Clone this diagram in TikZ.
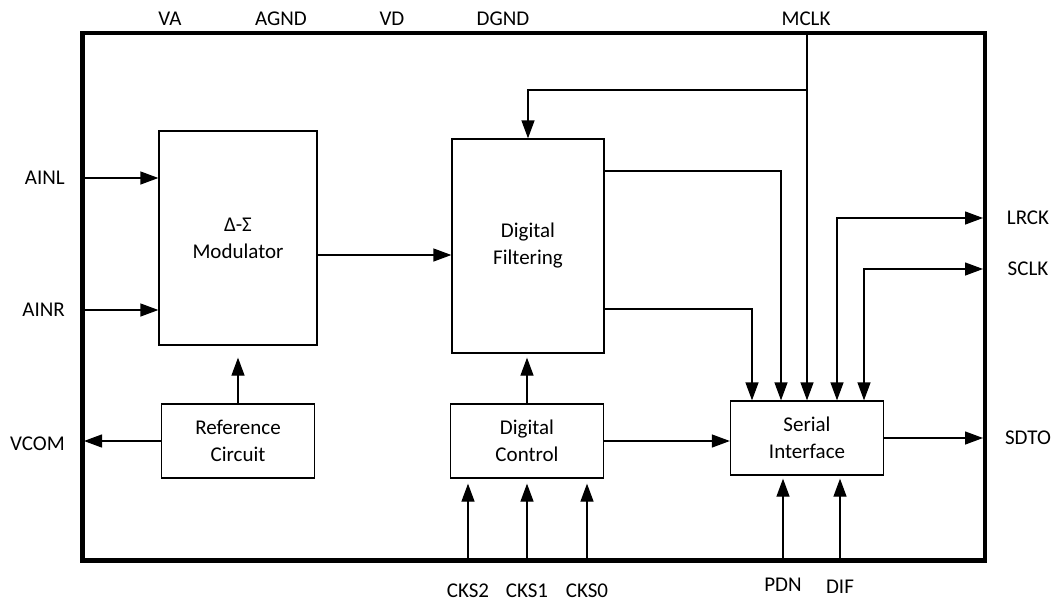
\documentclass[tikz,border=0pt]{standalone}
\usepackage{fontspec}
\setmainfont{Carlito}
\usetikzlibrary{arrows.meta, positioning}

\begin{document}
\begin{tikzpicture}[x=1pt, y=-1pt, >={Triangle[length=18pt, width=13pt]},
    block/.style={draw, line width=1.3pt, align=center, inner sep=0pt, font=\fontsize{21}{27}\selectfont},
    wire/.style={line width=1.3pt},
    pinlbl/.style={inner sep=0pt, font=\fontsize{21}{25}\selectfont}]

    % Define variables/coordinates
    \def\Left{82.5}
    \def\Right{985}
    \def\Top{33}
    \def\Bot{560.5}

    \useasboundingbox (0,0) rectangle (1056,605);

    % Draw chip outline
    \draw[line width=4.5pt] (\Left,\Top) rectangle (\Right,\Bot);

    % Blocks
    \node[block, minimum width=158pt, minimum height=214pt] (mod) at (238,238) {Δ-Σ\\Modulator};
    \node[block, minimum width=152pt, minimum height=214pt] (filt) at (528,246) {Digital\\Filtering};
    \node[block, minimum width=153pt, minimum height=74pt] (ref) at (238,441) {Reference\\Circuit};
    \node[block, minimum width=153pt, minimum height=74pt] (ctrl) at (527,441) {Digital\\Control};
    \node[block, minimum width=153pt, minimum height=74pt] (ser) at (807,438) {Serial\\Interface};

    % Pins on the outline
    \coordinate (ainl) at (\Left,178);
    \coordinate (ainr) at (\Left,310);
    \coordinate (vcom) at (84,441);
    \coordinate (mclk) at (807,\Top);
    \coordinate (lrck) at (983,218);
    \coordinate (sclk) at (983,269);
    \coordinate (sdto) at (983,438);
    \coordinate (cks2) at (468,\Bot);
    \coordinate (cks1) at (527,\Bot);
    \coordinate (cks0) at (587,\Bot);
    \coordinate (pdn) at (783,\Bot);
    \coordinate (dif) at (840,\Bot);

    % Pin labels
    \node[pinlbl] (vaL) at (170,19) {VA};
    \node[pinlbl] (agndL) at (281,19) {AGND};
    \node[pinlbl] (vdL) at (392,19) {VD};
    \node[pinlbl] (dgndL) at (503,19) {DGND};
    \node[pinlbl] (mclkL) at (806,19) {MCLK};
    \node[pinlbl, anchor=east] (ainlL) at (65,178) {AINL};
    \node[pinlbl, anchor=east] (ainrL) at (65,310) {AINR};
    \node[pinlbl, anchor=east] (vcomL) at (65,444) {VCOM};
    \node[pinlbl] (lrckL) at (1028,218) {LRCK};
    \node[pinlbl] (sclkL) at (1028,269) {SCLK};
    \node[pinlbl] (sdtoL) at (1028,438) {SDTO};
    \node[pinlbl] (cks2L) at (468,591) {CKS2};
    \node[pinlbl] (cks1L) at (527,591) {CKS1};
    \node[pinlbl] (cks0L) at (587,591) {CKS0};
    \node[pinlbl] (pdnL) at (783,585) {PDN};
    \node[pinlbl] (difL) at (840,587) {DIF};

    % Analog side
    \draw[wire, ->] (ainl) -- (ainl -| mod.west);
    \draw[wire, ->] (ainr) -- (ainr -| mod.west);
    \draw[wire, ->] (ref.west) -- (vcom);
    \draw[wire, ->, shorten >=12pt] (ref.north) -- (mod.south);
    \draw[wire, ->] ([yshift=-17pt]mod.east) -- ([yshift=-17pt]mod.east -| filt.west);

    % Digital side
    \draw[wire, ->, shorten >=4pt] (ctrl.north) -- (ctrl.north |- filt.south);
    \draw[wire, ->] (ctrl.east) -- (ctrl.east -| ser.west);
    \foreach \p in {cks2, cks1, cks0}
        \draw[wire, ->, shorten >=5pt] (\p) -- (\p |- ctrl.south);
    \draw[wire, ->] ([yshift=75pt]filt.east) -| ([xshift=-26pt]ser.north);
    \draw[wire, ->] ([yshift=-63pt]filt.east) -| ([xshift=-55pt]ser.north);

    % Clocks and serial port
    \draw[wire, ->] (mclk) -- (mclk |- ser.north);
    \draw[wire, ->] (mclk |- 0,90) -| (filt.north);
    \draw[wire, <->] ([xshift=30pt]ser.north) |- (lrck);
    \draw[wire, <->] ([xshift=57pt]ser.north) |- (sclk);
    \draw[wire, ->] (ser.east) -- (sdto);
    \draw[wire, ->, shorten >=3pt] (pdn) -- (pdn |- ser.south);
    \draw[wire, ->, shorten >=3pt] (dif) -- (dif |- ser.south);

\end{tikzpicture}
\end{document}
